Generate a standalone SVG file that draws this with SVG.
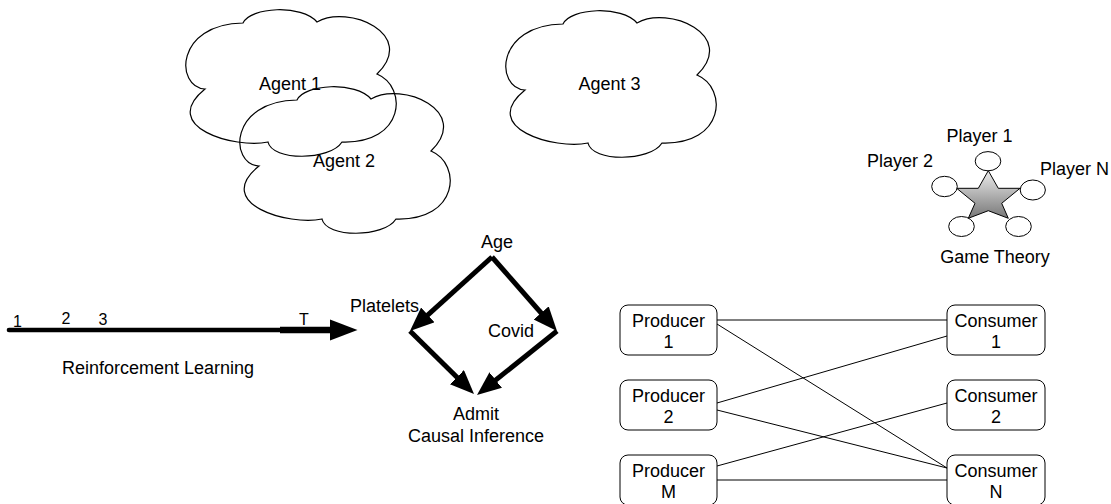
<svg xmlns="http://www.w3.org/2000/svg" width="1111" height="504" viewBox="0 0 1111 504">
<defs>
<style>
text { font-family: "Liberation Sans", Arial, Helvetica, sans-serif; font-size: 18px; fill: #000; }
.c { text-anchor: middle; }
.num { font-size: 16px; }
.cloud { fill: none; stroke: #000; stroke-width: 1.2; }
.box { fill: #fff; stroke: #000; stroke-width: 1; }
.conn { fill: none; stroke: #000; stroke-width: 1; }
.causal { fill: none; stroke: #000; stroke-width: 5; marker-end: url(#ah); }
.pl { fill: #fff; stroke: #000; stroke-width: 1; }
</style>
<marker id="ah" markerUnits="userSpaceOnUse" markerWidth="26" markerHeight="22" refX="14" refY="10" orient="auto">
<path d="M0,0 L24,10 L0,20 Z" fill="#000"/>
</marker>
<linearGradient id="starGrad" x1="0" y1="0" x2="0" y2="1">
<stop offset="0" stop-color="#ececec"/>
<stop offset="1" stop-color="#777777"/>
</linearGradient>
</defs>
<rect x="0" y="0" width="1111" height="504" fill="#fff"/>

<g id="agent1">
<path class="cloud" transform="translate(-320,-1)" d="M525,90 C495,88 495,25 563,24 C570,8 622,5 637,23 C668,5 738,35 697,75 C728,88 725,145 662,143 C650,162 592,162 588,143 C555,150 478,128 525,90 Z"/>
<text class="c" x="290" y="90">Agent 1</text>
</g>
<g id="agent2">
<path class="cloud" transform="translate(-266,76)" d="M525,90 C495,88 495,25 563,24 C570,8 622,5 637,23 C668,5 738,35 697,75 C728,88 725,145 662,143 C650,162 592,162 588,143 C555,150 478,128 525,90 Z"/>
<text class="c" x="344" y="167">Agent 2</text>
</g>
<g id="agent3">
<path class="cloud" d="M525,90 C495,88 495,25 563,24 C570,8 622,5 637,23 C668,5 738,35 697,75 C728,88 725,145 662,143 C650,162 592,162 588,143 C555,150 478,128 525,90 Z"/>
<text class="c" x="609.5" y="90">Agent 3</text>
</g>

<g id="game-theory">
<polygon points="988.3,170.7 998.3,188.3 1020,188.3 1001.7,203.3 1008.3,218.3 988.3,210.7 968.3,218.3 975,203.3 956.7,188.3 978.3,188.3" fill="url(#starGrad)" stroke="#000" stroke-width="1"/>
<ellipse class="pl" cx="988" cy="161.2" rx="12.8" ry="9.6"/>
<ellipse class="pl" cx="944.5" cy="186.5" rx="12.8" ry="10.2"/>
<ellipse class="pl" cx="1032.8" cy="190" rx="12.6" ry="10"/>
<ellipse class="pl" cx="961.5" cy="226.5" rx="12.8" ry="10"/>
<ellipse class="pl" cx="1018.5" cy="226.5" rx="12.8" ry="10"/>
<text class="c" x="979.5" y="142">Player 1</text>
<text class="c" x="900" y="167">Player 2</text>
<text x="1040" y="175">Player N</text>
<text class="c" x="995" y="263">Game Theory</text>
</g>

<g id="reinforcement-learning">
<path d="M9,330 L282,330" stroke="#000" stroke-width="4.6" stroke-linecap="round" fill="none"/>
<path d="M280,330 L332,330" stroke="#000" stroke-width="6.7" fill="none"/>
<polygon points="330,319.5 357.5,330 330,340.5" fill="#000"/>
<text class="c num" x="17.5" y="327">1</text>
<text class="c num" x="66" y="324">2</text>
<text class="c num" x="103" y="325">3</text>
<text class="c num" x="304" y="325">T</text>
<text x="62" y="374">Reinforcement Learning</text>
</g>

<g id="causal-inference">
<text class="c" x="497" y="248">Age</text>
<text x="350" y="312">Platelets</text>
<text x="488" y="337">Covid</text>
<text class="c" x="476" y="420">Admit</text>
<text class="c" x="476" y="442">Causal Inference</text>
</g>

<g id="producer1"><rect class="box" x="620" y="305" width="97" height="50" rx="8"/><text class="c" x="668.5" y="327">Producer</text><text class="c" x="668.5" y="348">1</text></g>
<g id="producer2"><rect class="box" x="620" y="380" width="97" height="50" rx="8"/><text class="c" x="668.5" y="402">Producer</text><text class="c" x="668.5" y="423">2</text></g>
<g id="producerM"><rect class="box" x="620" y="455" width="97" height="50" rx="8"/><text class="c" x="668.5" y="477">Producer</text><text class="c" x="668.5" y="498">M</text></g>
<g id="consumer1"><rect class="box" x="947" y="305" width="98" height="50" rx="8"/><text class="c" x="996" y="327">Consumer</text><text class="c" x="996" y="348">1</text></g>
<g id="consumer2"><rect class="box" x="947" y="380" width="98" height="50" rx="8"/><text class="c" x="996" y="402">Consumer</text><text class="c" x="996" y="423">2</text></g>
<g id="consumerN"><rect class="box" x="947" y="455" width="98" height="50" rx="8"/><text class="c" x="996" y="477">Consumer</text><text class="c" x="996" y="498">N</text></g>

<g id="connectors">
<path class="causal" d="M492,257 L417.4,324.3"/>
<path class="causal" d="M492,257 L550.4,323.5"/>
<path class="causal" d="M410,331 L466.9,387"/>
<path class="causal" d="M557,331 L484.8,388.8"/>
<path class="conn" d="M717,320 L947,320"/>
<path class="conn" d="M717,324 L947,468"/>
<path class="conn" d="M717,403 L947,336"/>
<path class="conn" d="M717,410 L947,468"/>
<path class="conn" d="M717,466 L947,403"/>
<path class="conn" d="M717,480 L947,480"/>
</g>
</svg>
